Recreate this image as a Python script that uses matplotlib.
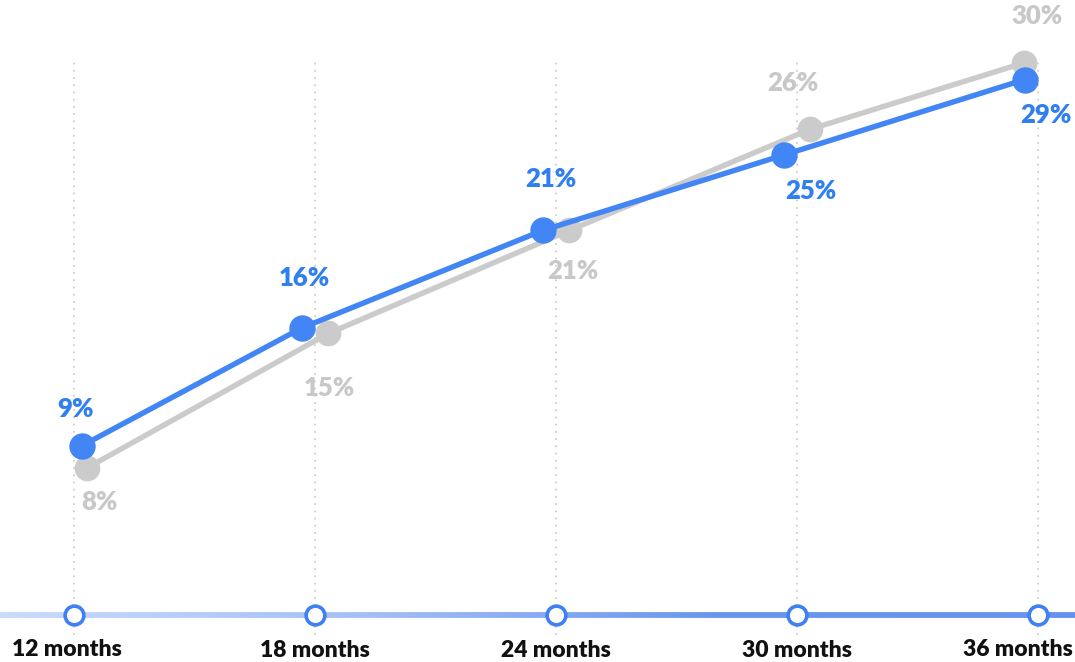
import numpy as np
import matplotlib
matplotlib.use("Agg")
import matplotlib.pyplot as plt
from matplotlib.collections import LineCollection
from matplotlib.colors import LinearSegmentedColormap

# ---- data ----
categories = ["12 months", "18 months", "24 months", "30 months", "36 months"]
blue_values = [9.2, 15.6, 20.9, 25.0, 29.1]
gray_values = [8.0, 15.3, 20.9, 26.4, 30.0]

# ---- style ----
BLUE = "#4285f4"
BLUE_TXT = "#2f7ff0"
GRAY = "#cbcbcb"
GRAY_TXT = "#c8c8c8"
FONT = "Lato"
WEIGHT = 800

W, H = 1075, 662
fig = plt.figure(figsize=(W / 100, H / 100), dpi=100)
ax = fig.add_axes([0, 0, 1, 1])
ax.set_xlim(-0.307, 4.153)
ax.set_ylim(-2.55, 33.42)
ax.axis("off")

n = len(categories)
xs = np.arange(n)

# dotted vertical gridlines
for x in xs:
    ax.plot([x, x], [-1.1, 30.2], color="#cfcfcf", lw=1.3,
            linestyle=(0, (1, 3)), zorder=1)

# gradient axis line
xg = np.linspace(-0.307, 4.153, 300)
pts = np.array([xg, np.zeros_like(xg)]).T.reshape(-1, 1, 2)
segs = np.concatenate([pts[:-1], pts[1:]], axis=1)
cmap = LinearSegmentedColormap.from_list("ax", ["#cadafb", "#a4bff6", "#6a95ef", "#6692ef"])
lc = LineCollection(segs, colors=cmap(np.linspace(0, 1, len(segs))), linewidths=4.2,
                    capstyle="butt", zorder=2)
ax.add_collection(lc)
ax.plot(xs, np.zeros(n), "o", ms=13.5, mfc="white", mec="#3f80f2", mew=2.6, zorder=3)

# series positions (offset + clamped at edges)
bx = np.clip(xs - 0.055, 0.033, 3.95)
gx = np.clip(xs + 0.055, 0.037, 3.94)

ax.plot(gx, gray_values, "-o", color=GRAY, lw=3.9, ms=17.5, zorder=4)
ax.plot(bx, blue_values, "-o", color=BLUE, lw=3.9, ms=18, zorder=5)

# label offsets in pixels (dx, dy down)
blue_off = [(-6, -37), (3, -50), (8, -51), (27, 36), (21, 35)]
gray_off = [(12, 34), (1, 55), (4, 41), (-17, -46), (13, -47)]

LABEL_FS = 18.5
for x, v, (dx, dy) in zip(bx, blue_values, blue_off):
    ax.annotate(f"{round(v)}%", (x, v), xytext=(dx * 0.72, -dy * 0.72),
                textcoords="offset points", ha="center", va="center",
                fontsize=LABEL_FS, fontweight=WEIGHT, color=BLUE_TXT, family=FONT, zorder=6)
for x, v, (dx, dy) in zip(gx, gray_values, gray_off):
    ax.annotate(f"{round(v)}%", (x, v), xytext=(dx * 0.72, -dy * 0.72),
                textcoords="offset points", ha="center", va="center",
                fontsize=LABEL_FS, fontweight=WEIGHT, color=GRAY_TXT, family=FONT, zorder=6)

# category labels
TICK_FS = 16.5
for i, c in enumerate(categories):
    if i == 0:
        ha, xp = "left", 12
    elif i == n - 1:
        ha, xp = "right", 1073
    else:
        ha = "center"
        xp = None
    y_px = 650
    if xp is None:
        ax.annotate(c, (i, 0), xytext=(0, -(y_px - 615) * 0.72), textcoords="offset points",
                    ha=ha, va="center", fontsize=TICK_FS, fontweight=WEIGHT, color="#111111", family=FONT)
    else:
        fig.text(xp / W, 1 - y_px / H, c, ha=ha, va="center", fontsize=TICK_FS,
                 fontweight=WEIGHT, color="#111111", family=FONT)

fig.savefig("out.png", dpi=100)
